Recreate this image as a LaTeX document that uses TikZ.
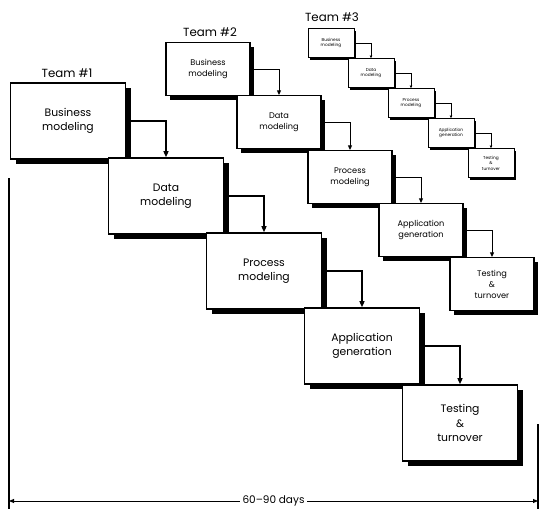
\documentclass[tikz,border=0pt]{standalone}
\usepackage{fontspec}
\setmainfont{Poppins}
\usetikzlibrary{arrows.meta, shadows}

\begin{document}
\begin{tikzpicture}[
  x=1pt, y=-1pt,
  box/.style={draw, fill=white, align=center, inner sep=0pt},
  bigbox/.style={box, line width=1.6pt, minimum width=115pt, minimum height=76pt, font=\fontsize{10.8}{14.5}\selectfont,
    drop shadow={fill=black, opacity=1, shadow xshift=5pt, shadow yshift=-5pt}},
  midbox/.style={box, line width=1.2pt, minimum width=84pt, minimum height=53pt, font=\fontsize{8.2}{11}\selectfont,
    drop shadow={fill=black, opacity=1, shadow xshift=4pt, shadow yshift=-4pt}},
  tinybox/.style={box, line width=0.8pt, minimum width=46pt, minimum height=29pt, font=\fontsize{4.3}{5.6}\selectfont,
    drop shadow={fill=black, opacity=1, shadow xshift=2pt, shadow yshift=-2pt}},
  team/.style={font=\fontsize{11.8}{13}\selectfont},
  bigflow/.style={-{Triangle[length=6pt, width=5pt]}, line width=1.3pt},
  midflow/.style={-{Triangle[length=4.5pt, width=4pt]}, line width=1pt},
  tinyflow/.style={-{Triangle[length=2.5pt, width=2.5pt]}, line width=0.7pt}
]
  \useasboundingbox (0,0) rectangle (539,509);

  % Team #1
  \node[team] (team1) at (67,73) {Team \#1};
  \node[bigbox] (bus1) at (68,121) {Business\\modeling};
  \node[bigbox] (dat1) at (166,196) {Data\\modeling};
  \node[bigbox] (pro1) at (264,271) {Process\\modeling};
  \node[bigbox] (app1) at (362,346) {Application\\generation};
  \node[bigbox] (tes1) at (460,423) {Testing\\\&\\turnover};

  \draw[bigflow] (bus1.east) -| (dat1.north);
  \draw[bigflow] (dat1.east) -| (pro1.north);
  \draw[bigflow] (pro1.east) -| (app1.north);
  \draw[bigflow] (app1.east) -| (tes1.north);

  % Team #2
  \node[team] (team2) at (210,32) {Team \#2};
  \node[midbox] (bus2) at (208,69) {Business\\modeling};
  \node[midbox] (dat2) at (279,122) {Data\\modeling};
  \node[midbox] (pro2) at (350,177) {Process\\modeling};
  \node[midbox] (app2) at (421,230) {Application\\generation};
  \node[midbox] (tes2) at (492,284) {Testing\\\&\\turnover};

  \draw[midflow] (bus2.east) -| (dat2.north);
  \draw[midflow] (dat2.east) -| (pro2.north);
  \draw[midflow] (pro2.east) -| (app2.north);
  \draw[midflow] (app2.east) -| (tes2.north);

  % Team #3
  \node[team] (team3) at (332,17) {Team \#3};
  \node[tinybox] (bus3) at (331,43) {Business\\modeling};
  \node[tinybox] (dat3) at (371,73) {Data\\modeling};
  \node[tinybox] (pro3) at (411,103) {Process\\modeling};
  \node[tinybox] (app3) at (451,133) {Application\\generation};
  \node[tinybox] (tes3) at (491,163) {Testing\\\&\\turnover};

  \draw[tinyflow] (bus3.east) -| (dat3.north);
  \draw[tinyflow] (dat3.east) -| (pro3.north);
  \draw[tinyflow] (pro3.east) -| (app3.north);
  \draw[tinyflow] (app3.east) -| (tes3.north);

  % Time span
  \coordinate (ltop) at (9,178);
  \coordinate (lbot) at (9,509);
  \coordinate (rtop) at (538,424);
  \coordinate (rbot) at (538,509);
  \coordinate (lmid) at (9,501);
  \coordinate (rmid) at (538,501);
  \draw[line width=1.2pt] (ltop) -- (lbot);
  \draw[line width=1.2pt] (rtop) -- (rbot);
  \draw[{Triangle[length=5pt, width=4pt]}-{Triangle[length=5pt, width=4pt]}, line width=0.9pt]
    (lmid) -- node[fill=white, inner xsep=3pt, font=\fontsize{10.5}{12}\selectfont] (span) {60--90 days} (rmid);
\end{tikzpicture}
\end{document}
